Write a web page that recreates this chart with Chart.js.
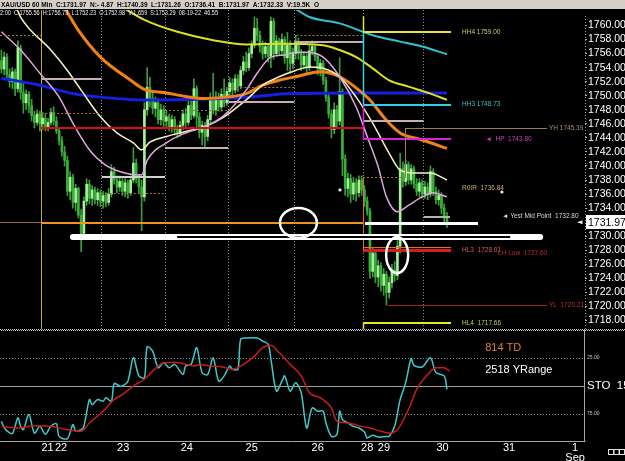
<!DOCTYPE html>
<html><head><meta charset="utf-8">
<script src="https://cdn.jsdelivr.net/npm/chart.js@4.4.0/dist/chart.umd.min.js"></script>
<style>
html,body{margin:0;padding:0;background:#000;overflow:hidden;}
#wrap{position:relative;width:625px;height:461px;background:#000;}
#c1{position:absolute;left:0;top:0;}
#c2{position:absolute;left:0;top:330px;}
</style></head><body>
<div id="wrap"><canvas id="c1" width="625" height="330"></canvas><canvas id="c2" width="625" height="131"></canvas></div>
<script>
// ---------- DATA ----------
const header1 = 'XAU/USD 60 Min  C:1731.97  N:- 4.87  H:1740.39  L:1731.26  O:1736.41  B:1731.97  A:1732.33  V:19.5K  O';
const header2 = '2:00  C:1755.56  H:1756.73  L:1752.23  O:1752.98  V:1,659  S:1753.29  08-19-22  46.55';

const opens = [
1755.0,1753.8,1755.5,1753.0,1752.0,1753.4,1751.0,1756.8,1750.5,1749.0,1750.2,1748.6,1747.2,1746.2,1747.4,
1746.0,1746.8,1745.6,1746.2,1747.6,1746.4,1745.0,1743.6,1742.0,1740.8,1736.4,1738.4,1734.8,1736.8,1733.0,1730.4,1735.0,1737.4,1735.4,1736.6,1735.2,1736.2,
1735.0,1735.8,1734.8,1736.0,1739.2,1738.0,1737.0,1737.8,1736.4,1737.6,1736.2,1738.0,1740.4,1738.2,1737.0,1735.6,1748.0,1751.2,1749.6,1748.2,1749.0,1746.6,1748.0,
1746.4,1747.0,1745.6,1746.6,1745.2,1744.6,1745.8,1747.4,1746.2,1748.6,1747.2,1751.0,1747.0,1744.8,1745.8,1744.2,1746.6,1749.6,1748.0,1749.8,1748.4,1750.2,1749.0,
1750.6,1751.8,1750.8,1752.4,1751.4,1753.6,1754.8,1754.0,1756.0,1757.2,1759.6,1758.6,1757.0,1756.0,1757.0,1755.6,1760.6,1756.0,1757.8,1756.4,1758.0,1755.4,1757.2,1754.6,
1756.0,1757.6,1756.0,1754.4,1755.6,1754.0,1756.4,1757.0,1755.6,1753.8,1754.6,1752.2,1749.8,1747.4,1745.2,1748.0,1746.4,1750.6,1741.0,1736.8,1738.2,1736.0,1737.6,1736.2,1738.0,
1736.6,1735.0,1733.6,1725.0,1727.6,1724.2,1725.8,1723.0,1724.6,1722.0,1723.4,1725.2,1724.4,1728.6,1739.6,1737.8,1740.2,1738.0,1739.6,1737.4,1736.4,1737.6,
1736.0,1737.0,1736.0,1739.2,1736.4,1735.2,1735.8,1734.0,1732.6];
const closes = [
1753.8,1755.5,1753.0,1752.0,1753.4,1751.0,1756.8,1750.5,1749.0,1750.2,1748.6,1747.2,1746.2,1747.4,1746.0,
1746.8,1745.6,1746.2,1747.6,1746.4,1745.0,1743.6,1742.0,1740.8,1736.4,1738.4,1734.8,1736.8,1733.0,1730.4,1735.0,1737.4,1735.4,1736.6,1735.2,1736.2,1735.0,
1735.8,1734.8,1736.0,1739.2,1738.0,1737.0,1737.8,1736.4,1737.6,1736.2,1738.0,1740.4,1738.2,1737.0,1735.6,1748.0,1751.2,1749.6,1748.2,1749.0,1746.6,1748.0,1746.4,
1747.0,1745.6,1746.6,1745.2,1744.6,1745.8,1747.4,1746.2,1748.6,1747.2,1751.0,1747.0,1744.8,1745.8,1744.2,1746.6,1749.6,1748.0,1749.8,1748.4,1750.2,1749.0,1750.6,
1751.8,1750.8,1752.4,1751.4,1753.6,1754.8,1754.0,1756.0,1757.2,1759.6,1758.6,1757.0,1756.0,1757.0,1755.6,1760.6,1756.0,1757.8,1756.4,1758.0,1755.4,1757.2,1754.6,1756.0,
1757.6,1756.0,1754.4,1755.6,1754.0,1756.4,1757.0,1755.6,1753.8,1754.6,1752.2,1749.8,1747.4,1745.2,1748.0,1746.4,1750.6,1741.0,1736.8,1738.2,1736.0,1737.6,1736.2,1738.0,1736.6,
1735.0,1733.6,1725.0,1727.6,1724.2,1725.8,1723.0,1724.6,1722.0,1723.4,1725.2,1724.4,1728.6,1739.6,1737.8,1740.2,1738.0,1739.6,1737.4,1736.4,1737.6,1736.0,
1737.0,1736.0,1739.2,1736.4,1735.2,1735.8,1734.0,1732.6,1731.97];
const highs = [
1756.5,1756.2,1756.0,1753.8,1754.0,1753.8,1757.8,1757.2,1751.8,1750.8,1750.6,1749.5,1747.8,1748.0,1747.8,
1747.6,1747.4,1746.8,1748.2,1748.4,1747.0,1745.4,1744.2,1742.8,1741.4,1739.2,1738.8,1737.4,1737.0,1733.8,1735.6,1738.2,1738.0,1737.2,1737.0,1736.8,1736.6,
1736.4,1736.2,1736.8,1740.2,1739.8,1738.6,1738.6,1738.2,1738.4,1738.0,1738.6,1742.6,1741.0,1738.8,1738.0,1749.0,1754.0,1752.6,1750.6,1749.8,1749.6,1748.8,1748.6,
1747.8,1747.4,1747.2,1747.0,1745.8,1746.4,1748.0,1748.2,1749.8,1749.2,1752.4,1751.4,1747.6,1746.4,1746.2,1747.2,1750.4,1753.2,1750.6,1750.4,1751.0,1752.4,1751.2,
1752.6,1752.4,1753.0,1753.0,1754.2,1755.6,1756.2,1756.8,1757.8,1761.2,1761.0,1759.2,1757.8,1757.6,1757.4,1761.2,1761.0,1758.6,1758.2,1758.8,1758.4,1759.0,1757.8,1756.8,
1758.6,1758.2,1756.6,1756.2,1756.0,1757.2,1757.8,1757.4,1756.0,1755.2,1755.0,1752.6,1750.4,1748.0,1749.0,1748.6,1755.4,1751.0,1741.6,1739.0,1738.8,1738.4,1738.2,1738.6,1738.6,
1737.2,1735.6,1734.0,1728.4,1728.0,1726.6,1726.2,1725.4,1725.0,1724.2,1726.0,1726.4,1729.4,1741.8,1740.6,1740.8,1740.6,1740.2,1740.0,1738.2,1738.2,1738.0,
1737.8,1737.6,1740.0,1739.6,1737.0,1736.6,1736.2,1734.6,1733.4];
const lows = [
1753.2,1753.0,1752.5,1751.2,1751.0,1750.0,1750.5,1749.5,1747.5,1748.0,1747.6,1746.4,1745.4,1745.8,1745.0,
1745.2,1745.0,1745.0,1745.8,1745.8,1744.6,1743.0,1741.4,1740.0,1735.8,1735.2,1734.0,1733.6,1732.6,1727.8,1729.8,1734.4,1734.6,1734.4,1734.6,1734.4,1734.2,
1734.0,1734.2,1734.4,1735.6,1737.4,1736.2,1736.4,1735.8,1735.6,1735.4,1735.8,1737.6,1737.6,1736.2,1730.8,1735.0,1747.2,1748.4,1747.4,1747.0,1746.0,1745.8,1745.6,
1745.6,1745.0,1744.8,1744.4,1744.0,1744.2,1745.2,1745.6,1745.8,1746.6,1746.8,1745.2,1744.0,1743.0,1742.8,1743.6,1746.0,1747.4,1747.2,1747.8,1747.8,1748.4,1748.6,
1750.0,1750.0,1750.4,1750.6,1751.0,1753.0,1753.4,1753.6,1755.4,1756.8,1757.8,1756.2,1755.2,1755.4,1754.8,1754.0,1755.2,1755.6,1755.8,1755.8,1754.6,1753.6,1753.2,1753.8,
1755.2,1755.2,1753.6,1753.8,1753.2,1753.6,1755.8,1755.0,1753.0,1752.8,1751.6,1749.2,1746.8,1744.0,1744.6,1745.4,1745.8,1738.6,1735.8,1735.6,1734.8,1735.2,1735.0,1735.6,1735.8,
1734.2,1733.0,1724.0,1724.2,1723.4,1722.8,1722.2,1721.6,1720.2,1721.2,1722.6,1723.6,1723.8,1727.6,1737.0,1737.2,1737.4,1737.4,1736.8,1735.8,1735.6,1735.4,
1735.4,1735.2,1735.6,1735.8,1734.6,1734.4,1733.2,1731.8,1731.26];

// moving averages (bar index, price)
const blueIdx = [0,14,26,36,52,72,90,105,130,162];
const blueVal = [1752.5,1751.5,1750.3,1749.8,1749.4,1749.5,1749.8,1750.3,1750.4,1750.4];
const orangeIdx = [21,25,28,36,47,52,60,67,74,82,89,95,101,107,116,123,130,134,140,145,153,162];
const orangeVal = [1764.0,1761.2,1759.3,1755.5,1752.2,1750.9,1750.4,1749.9,1749.6,1749.8,1750.3,1751.5,1752.2,1752.7,1753.4,1752.7,1750.8,1749.4,1746.5,1744.7,1743.7,1742.5];
const yellowIdx = [44,52,64,77,89,101,117,123,129,135,141,148,156,162];
const yellowVal = [1762.6,1760.8,1759.1,1757.9,1757.3,1757.4,1757.2,1756.5,1755.5,1753.9,1752.2,1751.3,1750.3,1749.4];
const cyanIdx = [106,112,123,135,145,153,162];
const cyanVal = [1762.6,1761.2,1760.3,1758.6,1757.7,1757.0,1755.9];
const creamIdx = [5,7,18,24,29,36,42,48,51,54,60,67,74,81,89,95,101,107,112,117,123,129,135,141,145,150,156,162];
const creamVal = [1763.0,1761.2,1756.5,1753.6,1750.8,1747.0,1744.7,1743.3,1742.3,1743.4,1744.2,1744.9,1745.6,1747.0,1749.4,1751.5,1752.7,1753.6,1754.1,1753.9,1752.7,1749.8,1746.1,1741.8,1739.4,1739.0,1739.0,1738.0];
const pinkIdx = [0,7,14,21,26,32,38,46,51,53,60,67,74,81,89,93,98,103,107,111,117,123,129,133,137,140,144,148,153,157,162];
const pinkVal = [1759.1,1756.5,1753.2,1749.8,1746.1,1742.3,1740.1,1738.9,1738.7,1740.8,1743.3,1744.7,1745.6,1747.2,1750.8,1753.2,1755.5,1755.8,1756.2,1756.2,1755.5,1752.7,1748.4,1744.2,1739.9,1735.6,1733.5,1734.4,1735.6,1736.2,1735.6];

// stochastic (bar index, value)
const stoKIdx = [0,1,2,4,6,7,8,10,12,14,16,18,20,21,24,26,27,29,30,32,33,35,37,38,40,41,43,44,46,48,50,52,53,55,57,59,61,63,66,67,69,71,73,75,77,79,81,83,84,86,87,89,93,95,97,98,100,102,103,105,107,109,111,113,115,117,118,120,122,123,124,126,128,130,132,133,135,137,140,141,143,145,147,149,150,153,156,158,161,162];
const stoKVal = [81.5,87,90,92.5,78.5,86,89,75.5,92,86,93,86,83.6,95,97,84.5,90,89,86,62,66.6,62,63.6,60.6,63.6,47.8,50,50,45.7,24.8,41,42.7,15,18.8,33.7,29.3,33.7,30.7,39.7,32.2,30.7,15.8,38.2,39.7,24.8,45.7,41,32.2,35,35,8.4,7.2,7.2,9.9,12.8,26,54.6,45.7,41,54.6,47,56,87.5,69.6,72.5,72.5,83,95,93.4,72.5,80,83,86,87.5,91,96.4,94,95.5,95,95,86,62,47,25.4,31.6,33,24.8,38,41,53];
const stoDIdx = [0,6,12,18,24,29,32,37,41,44,48,52,55,59,63,66,70,72,76,80,84,88,92,95,98,101,105,109,112,116,120,122,126,130,134,138,141,144,148,151,155,158,161,163];
const stoDVal = [86,87.5,85.4,86,89,90.4,83,72.5,62,57.6,50,44,36.7,29.3,28.7,29.9,32.2,30.7,32.2,32.8,35,30.7,23.3,15.8,13.7,20.3,30.7,41,56,60.6,69.6,81.5,83,85.4,87.5,90.4,92,89,71,53,39.7,33.7,33.7,36.7];

// axis ticks / labels
const priceTicks = [1718,1720,1722,1724,1726,1728,1730,1734,1736,1738,1740,1742,1744,1746,1748,1750,1752,1754,1756,1758,1760];
const dayTickIdx = [16.8,21.7,44.3,67.4,91.0,115.0,133.0,139.1,160.4,184.6,208.6];
const dayTickLbl = ['21','22','23','24','25','26','28','29','30','31',['1','Sep']];
const sessionBounds = [14.5,36.5,59.5,82.5,106.5,131.5,153.5];

// levels
const lastPrice = 1731.97;
const keyLevels = {HH4:1759.00, HH3:1748.73, YH:1745.39, HP:1743.80, R0IR:1736.84, YMid:1732.80, HL3:1728.01, LHLow:1727.60, YL:1720.21, HL4:1717.66};
const pivotLevels = [1752.4,1738.4,1742.56,1749.1,1757.65,1746.4,1732.80];
const dotLevels = [1758.5,1747.53,1736.15,1747.96,1751.1,1758.6,1738.3];
const drawnLevels = [1731.95,1729.85,1731.8]; // orange line, white double line, white short line
const circleCenters = [[108.0,1731.9],[143.9,1727.33]];
const whiteDots = [[123.1,1736.6],[182,1736.3]];

// ---------- HELPERS ----------
function P(chart){ return {X:chart.scales.x, Y:chart.scales.y, c:chart.ctx, a:chart.chartArea}; }
function hseg(chart,i1,i2,p,color,w,dash,cap){
  const {X,Y,c}=P(chart); let y=Y.getPixelForValue(p);
  y = (Math.round(w)%2===1) ? Math.floor(y)+0.5 : Math.round(y);
  c.save(); c.strokeStyle=color; c.lineWidth=w; c.setLineDash(dash||[]); c.lineCap=cap||'butt';
  c.beginPath(); c.moveTo(X.getPixelForValue(i1),y); c.lineTo(X.getPixelForValue(i2),y); c.stroke(); c.restore();
}
function vseg(chart,i,p1,p2,color,w,dash){
  const {X,Y,c}=P(chart); const x=Math.floor(X.getPixelForValue(i))+0.5;
  c.save(); c.strokeStyle=color; c.lineWidth=w; c.setLineDash(dash||[]);
  c.beginPath(); c.moveTo(x,Y.getPixelForValue(p1)); c.lineTo(x,Y.getPixelForValue(p2)); c.stroke(); c.restore();
}
function lbl(chart,txt,i,p,color,font){
  const {X,Y,c}=P(chart); c.save(); c.font=font||'6.5px Arial'; c.fillStyle=color; c.textBaseline='middle'; c.textAlign='left';
  c.fillText(txt,X.getPixelForValue(i),Y.getPixelForValue(p)); c.restore();
}
function fitText(c,txt,x,y,w,font,color){
  c.save(); c.font=font; c.fillStyle=color; c.textBaseline='middle';
  const m=c.measureText(txt).width; c.translate(x,y); c.scale(w/m,1); c.fillText(txt,0,0); c.restore();
}

// ---------- MAIN PANEL ----------
const mainPlugin = {
  id:'mainDeco',
  beforeDraw(chart){
    const c=chart.ctx; c.save(); c.fillStyle='#000'; c.fillRect(0,0,chart.width,chart.height);
    c.fillStyle='#d4d0c8'; c.fillRect(0,0,chart.width,9); c.restore();
    fitText(c,header1,1,4.8,318,'bold 7px Arial','#000');
  },
  beforeDatasetsDraw(chart){
    const {Y}=P(chart);
    sessionBounds.forEach(b=>vseg(chart,b,Y.max,Y.min,'#8a8a8a',1,[1,2]));
    vseg(chart,sessionBounds[0],Y.max,Y.min,'#bcac30',1);
  },
  afterDatasetsDraw(chart){
    const {X,Y,c}=P(chart); const L=keyLevels; const b=sessionBounds; const boxEnd=163.5;
    const pivFrom=[b[0],b[1],b[2],b[3],b[4],b[5],b[6]], pivTo=[b[1],b[2],b[3],b[4],b[5],b[6],boxEnd-0.4];
    const pivCol=['#c8aeb4','#d2d2cc','#c8aeb4','#c8aeb4','#c8aeb4','#c8aeb4','#b4b4b4'];
    pivotLevels.forEach((p,k)=>hseg(chart,pivFrom[k],pivTo[k],p,pivCol[k],2));
    const dotFrom=[-0.5,b[0],b[1],b[2],b[3],b[4]+0.8,b[5]], dotTo=[b[0],b[1],b[2],b[3],b[4],b[5],146.8];
    dotLevels.forEach((p,k)=>hseg(chart,dotFrom[k],dotTo[k],p,'#9c7c40',1,[2,2]));
    hseg(chart,-0.5,b[0],lastPrice,'#8a7048',1);
    hseg(chart,b[0],b[5],L.YH,'#d41010',2);
    hseg(chart,b[0],b[5],drawnLevels[0],'#f0961e',2);
    hseg(chart,b[5],boxEnd,L.HH4,'#e6e62a',2);
    hseg(chart,b[5],boxEnd,L.HH3,'#32d2e6',2);
    hseg(chart,b[5],boxEnd,L.HP,'#d424d4',2);
    hseg(chart,b[5],boxEnd,L.HL3+0.35,'#e07020',1);
    hseg(chart,b[5],boxEnd,L.HL3,'#e01818',3);
    hseg(chart,b[5],boxEnd,L.HL4,'#e6e62a',2);
    vseg(chart,b[5],1761.3,L.HH4,'#e6e62a',1.5);
    vseg(chart,b[5],L.HH4,L.HH3,'#32d2e6',1.5);
    vseg(chart,b[5],L.HH3,L.HP,'#d424d4',1.5);
    vseg(chart,b[5],dotLevels[6],L.HL3,'#e07020',1);
    vseg(chart,b[5],L.HL4,Y.min,'#e6e62a',1.5);
    hseg(chart,146.8,198.4,L.YH,'#9c7c50',1);
    vseg(chart,146.8,L.YH,dotLevels[6],'#9c7c50',1);
    hseg(chart,140.6,198.4,L.YL,'#a82020',1);
    hseg(chart,26,195.9,drawnLevels[1],'#ffffff',6,[], 'round');
    hseg(chart,63.9,185,drawnLevels[1],'#000000',2);
    hseg(chart,132.2,173.3,drawnLevels[2],'#ffffff',3);
    const rx=[6.7,4.0], ry=[2.13,2.56];
    circleCenters.forEach((cc,k)=>{
      const cx=X.getPixelForValue(cc[0]), cy=Y.getPixelForValue(cc[1]);
      const rpx=Math.abs(X.getPixelForValue(cc[0]+rx[k])-cx), rpy=Math.abs(Y.getPixelForValue(cc[1]+ry[k])-cy);
      c.save(); c.strokeStyle='#ffffff'; c.lineWidth=2.5; c.beginPath(); c.ellipse(cx,cy,rpx,rpy,0,0,Math.PI*2); c.stroke(); c.restore();
    });
    whiteDots.forEach(d=>{ c.save(); c.fillStyle='#e8e8e8'; c.beginPath(); c.arc(X.getPixelForValue(d[0]),Y.getPixelForValue(d[1]),1.6,0,Math.PI*2); c.fill(); c.restore(); });
    lbl(chart,'HH4 '+L.HH4.toFixed(2),167.5,L.HH4,'#c8c864');
    lbl(chart,'HH3 '+L.HH3.toFixed(2),167.5,L.HH3,'#40bcc4');
    lbl(chart,'YH '+L.YH.toFixed(2),199.1,L.YH,'#b09070');
    lbl(chart,'\u25C4  HP  '+L.HP.toFixed(2),176,L.HP,'#c840c8');
    lbl(chart,'R0IR  '+L.R0IR.toFixed(2),167.5,L.R0IR,'#c8b060');
    lbl(chart,'\u25C4 Yest Mid Point  '+L.YMid.toFixed(2),182,L.YMid,'#d8d8d8');
    lbl(chart,'HL3  '+L.HL3.toFixed(2),167.5,L.HL3,'#d06050');
    lbl(chart,'LH Low  '+L.LHLow.toFixed(2),180.6,L.LHLow,'#c02828');
    lbl(chart,'YL  '+L.YL.toFixed(2),199.1,L.YL,'#c03030');
    lbl(chart,'HL4  '+L.HL4.toFixed(2),167.5,L.HL4,'#c8c864');
    fitText(c,header2,0,13.2,218,'6.5px Arial','#f0f0f0');
  },
  afterDraw(chart){
    const {Y,c,a}=P(chart);
    c.save(); c.strokeStyle='#a0a0a0'; c.setLineDash([1,2]); c.lineWidth=1;
    c.beginPath(); c.moveTo(a.right+0.5,a.top+6); c.lineTo(a.right+0.5,a.bottom); c.stroke(); c.restore();
    const y=Y.getPixelForValue(lastPrice);
    c.save(); c.fillStyle='#ffffff'; c.fillRect(a.right+1,Math.round(y)-7,40,14);
    c.fillStyle='#000'; c.font='10.5px Arial'; c.textBaseline='middle'; c.fillText(lastPrice.toFixed(2),a.right+3,y+0.5);
    c.fillStyle='#ffffff'; c.font='7px "DejaVu Sans"'; c.fillText('\u25C4',a.right-8,y); c.restore();
    c.save(); c.fillStyle='#c4c4c4'; for(let x=0;x<chart.width;x+=2){ c.fillRect(x,chart.height-1,1,1);} c.restore();
  }
};

const mainChart = new Chart(document.getElementById('c1'),{
  type:'bar',
  data:{datasets:[
    {type:'line',data:pinkIdx.map((x,k)=>({x,y:pinkVal[k]})),borderColor:'#e0a6e0',borderWidth:1.5,pointRadius:0,cubicInterpolationMode:'monotone',clip:0,order:1},
    {type:'line',data:creamIdx.map((x,k)=>({x,y:creamVal[k]})),borderColor:'#f6f2c4',borderWidth:1.5,pointRadius:0,cubicInterpolationMode:'monotone',clip:0,order:1},
    {type:'line',data:cyanIdx.map((x,k)=>({x,y:cyanVal[k]})),borderColor:'#2cc4d0',borderWidth:2,pointRadius:0,cubicInterpolationMode:'monotone',clip:0,order:2},
    {type:'line',data:yellowIdx.map((x,k)=>({x,y:yellowVal[k]})),borderColor:'#dede22',borderWidth:2,pointRadius:0,cubicInterpolationMode:'monotone',clip:0,order:2},
    {type:'line',data:orangeIdx.map((x,k)=>({x,y:orangeVal[k]})),borderColor:'#f08214',borderWidth:3,pointRadius:0,cubicInterpolationMode:'monotone',clip:0,order:2},
    {type:'line',data:blueIdx.map((x,k)=>({x,y:blueVal[k]})),borderColor:'#1420e0',borderWidth:3,pointRadius:0,cubicInterpolationMode:'monotone',clip:0,order:2},
    {data:highs.map((h,i)=>({x:i,y:[lows[i],h]})),backgroundColor:'#3c9c3c',barThickness:1,grouped:false,order:10},
    {data:opens.map((o,i)=>({x:i,y:[o,closes[i]]})),backgroundColor:opens.map((o,i)=>closes[i]>=o?'#a6ee98':'#38b038'),barThickness:2,minBarLength:1,grouped:false,order:9}
  ]},
  options:{
    responsive:false,animation:false,events:[],
    layout:{padding:{top:10,bottom:1,left:0,right:0}},
    plugins:{legend:{display:false},tooltip:{enabled:false}},
    scales:{
      x:{type:'linear',min:-0.5,max:212.2,display:false,offset:false},
      y:{position:'right',min:1716.8,max:1762.2,
         afterFit(s){s.width=40; s.paddingTop=0; s.paddingBottom=0;},
         afterBuildTicks(s){s.ticks=priceTicks.map(v=>({value:v}));},
         ticks:{color:'#ffffff',font:{family:'Arial',size:10.5},padding:1,callback:v=>Number(v).toFixed(2)},
         grid:{drawOnChartArea:false,drawTicks:true,tickLength:2,tickColor:'#b0b0b0'},
         border:{display:false}}
    }
  },
  plugins:[mainPlugin]
});

// ---------- LOWER PANEL ----------
const lowerPlugin = {
  id:'lowerDeco',
  beforeDraw(chart){ const c=chart.ctx; c.save(); c.fillStyle='#000'; c.fillRect(0,0,chart.width,chart.height); c.restore(); },
  beforeDatasetsDraw(chart){
    const {X,Y,c,a}=P(chart);
    const line=(v,color,dash)=>{ const y=Math.floor(Y.getPixelForValue(v))+0.5; c.save(); c.strokeStyle=color; c.lineWidth=1; c.setLineDash(dash); c.beginPath(); c.moveTo(a.left,y); c.lineTo(a.right,y); c.stroke(); c.restore(); };
    line(25,'#8a8a8a',[1,2]); line(75,'#8a8a8a',[1,2]); line(50,'#a0a0a0',[]);
    c.save(); c.strokeStyle='#a8a8a8'; c.lineWidth=1;
    c.beginPath(); c.moveTo(a.left,a.bottom-0.5); c.lineTo(a.right+0.5,a.bottom-0.5); c.moveTo(a.right-0.5,a.top); c.lineTo(a.right-0.5,a.bottom); c.stroke(); c.restore();
    c.save(); c.fillStyle='#c4c4c4'; for(let x=0;x<chart.width;x+=2){ c.fillRect(x+1,0,1,1);} c.restore();
  },
  afterDraw(chart){
    const {X,Y,c,a}=P(chart);
    c.save(); c.textBaseline='middle'; c.font='11px Arial';
    c.fillStyle='#e27a3c'; c.fillText('814 TD',X.getPixelForValue(175.9),Y.getPixelForValue(16.1));
    c.fillStyle='#ffffff'; c.fillText('2518 YRange',X.getPixelForValue(175.9),Y.getPixelForValue(35.8));
    c.font='11.5px Arial'; c.fillText('STO  15,3,3',a.right+2,Y.getPixelForValue(50));
    c.font='5px Arial'; c.fillStyle='#c8c8c8';
    c.fillText('25.00',a.right+2,Y.getPixelForValue(25)); c.fillText('75.00',a.right+2,Y.getPixelForValue(75));
    c.strokeStyle='#e0e0e0'; c.lineWidth=1;
    for(let k=0;k<3;k++){ c.strokeRect(a.right+23.5+k*5.5,a.bottom+7.5,5,5); }
    c.restore();
  }
};

const lowerChart = new Chart(document.getElementById('c2'),{
  type:'line',
  data:{datasets:[
    {data:stoDIdx.map((x,k)=>({x,y:stoDVal[k]})),borderColor:'#c81c1c',borderWidth:1.5,pointRadius:0,cubicInterpolationMode:'monotone'},
    {data:stoKIdx.map((x,k)=>({x,y:stoKVal[k]})),borderColor:'#40c8c8',borderWidth:1.5,pointRadius:0,tension:0.3}
  ]},
  options:{
    responsive:false,animation:false,events:[],
    layout:{padding:0},
    plugins:{legend:{display:false},tooltip:{enabled:false}},
    scales:{
      x:{type:'linear',min:-0.5,max:212.2,offset:false,
         afterFit(s){s.height=19; s.paddingLeft=0; s.paddingRight=0;},
         afterBuildTicks(s){s.ticks=dayTickIdx.map(v=>({value:v}));},
         ticks:{autoSkip:false,maxRotation:0,minRotation:0,color:'#ffffff',font:{family:'Arial',size:11,lineHeight:0.9},padding:1.5,
                callback:(v,k)=>dayTickLbl[k]},
         grid:{display:false,drawTicks:false},border:{display:false}},
      y:{position:'right',reverse:true,min:0,max:100,afterFit(s){s.width=40; s.paddingTop=0; s.paddingBottom=0;},
         ticks:{display:false},grid:{display:false,drawTicks:false},border:{display:false}}
    }
  },
  plugins:[lowerPlugin]
});
</script></body></html>
